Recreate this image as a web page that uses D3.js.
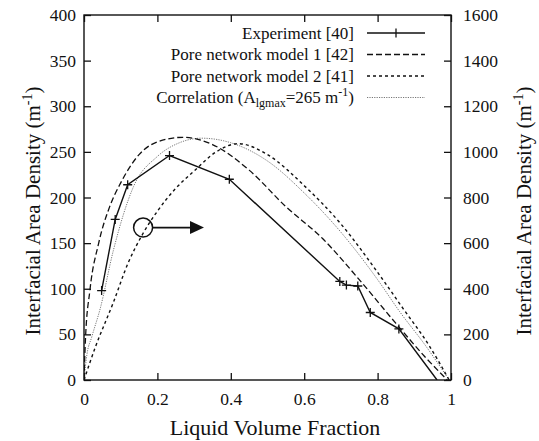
<!DOCTYPE html>
<html><head><meta charset="utf-8">
<script src="https://cdn.jsdelivr.net/npm/d3@7"></script>
<style>
html,body{margin:0;padding:0;background:#fff;}
</style></head>
<body><svg id="c" width="539" height="441"></svg>
<script>
// ---- data ----
const xTicks = [0, 0.2, 0.4, 0.6, 0.8, 1];
const xTickLabels = ["0", "0.2", "0.4", "0.6", "0.8", "1"];
const yLeftTicks = [0, 50, 100, 150, 200, 250, 300, 350, 400];
const yRightTicks = [0, 200, 400, 600, 800, 1000, 1200, 1400, 1600];

const expX = [0.048, 0.085, 0.119, 0.233, 0.396, 0.697, 0.715, 0.746, 0.780, 0.858, 0.962];
const expY = [98, 176, 214, 246, 220, 108, 104, 103, 74, 56, 0];
const expMarked = [1,1,1,1,1,1,1,1,1,1,0];

const pn1X = [0, 0.004, 0.016, 0.04, 0.07, 0.1, 0.15, 0.2, 0.27, 0.35, 0.45, 0.55, 0.65, 0.75, 0.85, 0.93, 0.99];
const pn1Y = [0, 45, 98, 150, 190, 216, 247, 261, 266, 258, 230, 190, 155, 110, 62, 25, 0];

const pn2X = [0, 0.03, 0.08, 0.12, 0.16, 0.2, 0.25, 0.3, 0.36, 0.42, 0.5, 0.6, 0.7, 0.8, 0.87, 0.94, 0.995];
const pn2Y = [0, 35, 85, 128, 160, 185, 210, 229, 250, 259, 247, 213, 171, 118, 78, 38, 0];

const corX = [0, 0.008, 0.021, 0.044, 0.08, 0.135, 0.2, 0.26, 0.32, 0.4, 0.5, 0.6, 0.7, 0.8, 0.86, 0.93, 0.995];
const corY = [0, 28, 47, 78, 142, 212, 245, 260, 265, 260, 240, 205, 162, 110, 75, 38, 0];

const legendLabels = ["Experiment [40]", "Pore network model 1 [42]", "Pore network model 2 [41]", "Correlation"];
const markerPoint = {x: 0.161, y: 167};   // circled point
const arrowEnd = {x: 0.327, y: 167};

// ---- chart ----
const FONT = "Liberation Serif";
const svg = d3.select("#c").attr("font-family", FONT);
const L = 84, R = 451, T = 15, B = 380;
const x = d3.scaleLinear().domain([0,1]).range([L,R]);
const y = d3.scaleLinear().domain([0,400]).range([B,T]);
const y2 = d3.scaleLinear().domain([0,1600]).range([B,T]);

const g = svg.append("g");
const TL = 7;
const axB = d3.axisBottom(x).tickValues(xTicks).tickFormat((d,i)=>xTickLabels[i]).tickSizeInner(-TL).tickSizeOuter(0).tickPadding(13);
const axT = d3.axisTop(x).tickValues(xTicks).tickFormat("").tickSizeInner(-TL).tickSizeOuter(0);
const axL = d3.axisLeft(y).tickValues(yLeftTicks).tickFormat(d3.format("d")).tickSizeInner(-TL).tickSizeOuter(0).tickPadding(8);
const axR = d3.axisRight(y2).tickValues(yRightTicks).tickFormat(d3.format("d")).tickSizeInner(-TL).tickSizeOuter(0).tickPadding(12);
function style(sel){ sel.attr("font-family", FONT).attr("font-size", 17.5);
  sel.select(".domain").remove(); sel.selectAll("line").attr("stroke","#111").attr("stroke-width",1.3);
  sel.selectAll("text").attr("fill","#111"); }
g.append("g").attr("transform",`translate(0,${B})`).call(axB).call(style);
g.append("g").attr("transform",`translate(0,${T})`).call(axT).call(style);
g.append("g").attr("transform",`translate(${L},0)`).call(axL).call(style);
g.append("g").attr("transform",`translate(${R},0)`).call(axR).call(style);

svg.append("clipPath").attr("id","pc").append("rect").attr("x",L).attr("y",T).attr("width",R-L).attr("height",B-T);

const line = d3.line().x(d=>x(d[0])).y(d=>y(d[1]));
const smooth = d3.line().x(d=>x(d[0])).y(d=>y(d[1])).curve(d3.curveMonotoneX);
const plot = svg.append("g").attr("clip-path","url(#pc)");

plot.append("path").attr("d", smooth(d3.zip(corX,corY))).attr("fill","none").attr("stroke","#777").attr("stroke-width",1).attr("stroke-dasharray","1.2,1.2");
plot.append("path").attr("d", smooth(d3.zip(pn2X,pn2Y))).attr("fill","none").attr("stroke","#111").attr("stroke-width",1.4).attr("stroke-dasharray","3,3");
plot.append("path").attr("d", smooth(d3.zip(pn1X,pn1Y))).attr("fill","none").attr("stroke","#111").attr("stroke-width",1.3).attr("stroke-dasharray","6,3");
plot.append("path").attr("d", line(d3.zip(expX,expY))).attr("fill","none").attr("stroke","#111").attr("stroke-width",1.4);
const ms = 4.5;
d3.zip(expX,expY,expMarked).filter(d=>d[2]).forEach(d=>{
  const cx=x(d[0]), cy=y(d[1]);
  plot.append("path").attr("d",`M${cx-ms},${cy}H${cx+ms}M${cx},${cy-ms}V${cy+ms}`).attr("stroke","#111").attr("stroke-width",1.3);
});

svg.append("rect").attr("x",L).attr("y",T).attr("width",R-L).attr("height",B-T).attr("fill","none").attr("stroke","#111").attr("stroke-width",1.4);

const cr = 9.5;
const mcx = x(markerPoint.x), mcy = y(markerPoint.y);
svg.append("circle").attr("cx",mcx).attr("cy",mcy).attr("r",cr).attr("fill","none").attr("stroke","#111").attr("stroke-width",1.5);
const ax2 = x(arrowEnd.x);
svg.append("line").attr("x1",mcx+cr).attr("x2",ax2-12).attr("y1",mcy).attr("y2",mcy).attr("stroke","#111").attr("stroke-width",1.6);
svg.append("path").attr("d",`M${ax2},${mcy}L${ax2-14},${mcy-6.5}L${ax2-14},${mcy+6.5}Z`).attr("fill","#111");

const lgTx = 354, lgL1 = 367, lgL2 = 425, lgY0 = 33, lgDy = 21.5;
const leg = svg.append("g").attr("font-size", 17).attr("fill","#111");
legendLabels.forEach((t,i)=>{
  const yy = lgY0 + i*lgDy;
  const tx = leg.append("text").attr("x",lgTx).attr("y",yy).attr("dy","0.35em").attr("text-anchor","end");
  if(i<3) tx.text(t);
  else { tx.append("tspan").text(t+" (A");
    tx.append("tspan").attr("dy","4").attr("font-size",12).text("lgmax");
    tx.append("tspan").attr("dy","-4").text("=265 m");
    tx.append("tspan").attr("dy","-7").attr("font-size",12).text("-1");
    tx.append("tspan").attr("dy","7").text(")"); }
});
const s = [
  {c:"#111",w:1.4,d:null},
  {c:"#111",w:1.3,d:"6,3"},
  {c:"#111",w:1.4,d:"3,3"},
  {c:"#777",w:1,d:"1.2,1.2"}];
s.forEach((st,i)=>{
  const yy = lgY0 + i*lgDy;
  const l = leg.append("line").attr("x1",lgL1).attr("x2",lgL2).attr("y1",yy).attr("y2",yy).attr("stroke",st.c).attr("stroke-width",st.w);
  if(st.d) l.attr("stroke-dasharray",st.d);
});
const mx = (lgL1+lgL2)/2, my = lgY0;
leg.append("path").attr("d",`M${mx},${my-ms}V${my+ms}`).attr("stroke","#111").attr("stroke-width",1.3);

function yTitle(xp){
  const t = svg.append("text").attr("transform",`translate(${xp},211) rotate(-90)`).attr("text-anchor","middle").attr("font-size",21).attr("fill","#111");
  t.append("tspan").text("Interfacial Area Density (m");
  t.append("tspan").attr("dy","-8").attr("font-size",14).text("-1");
  t.append("tspan").attr("dy","8").text(")");
}
yTitle(40); yTitle(531);
svg.append("text").attr("x",275).attr("y",435).attr("text-anchor","middle").attr("font-size",22).attr("fill","#111").text("Liquid Volume Fraction");
</script></body></html>
